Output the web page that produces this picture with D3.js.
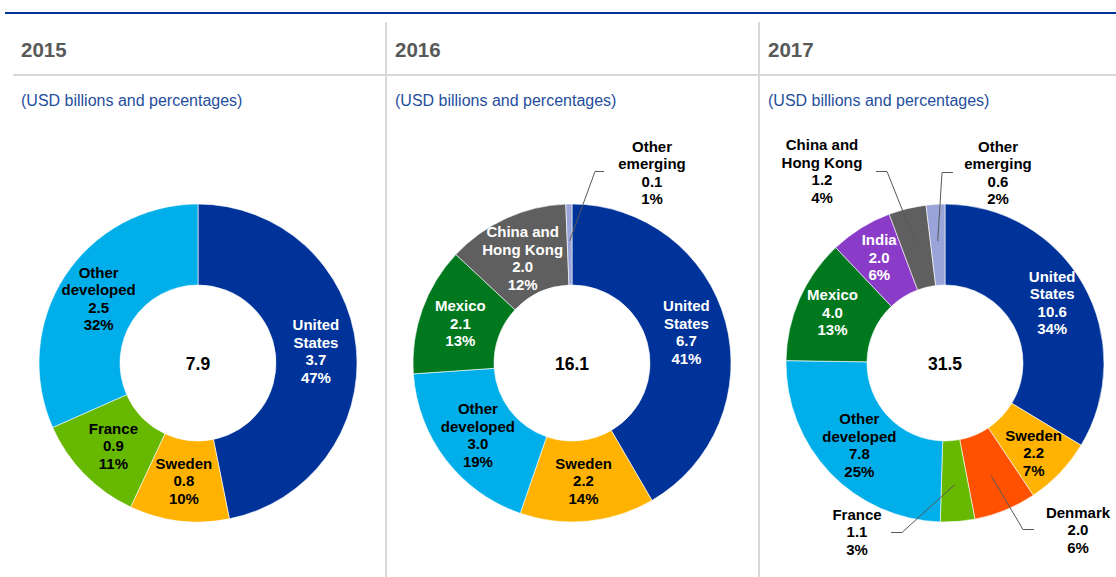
<!DOCTYPE html>
<html>
<head>
<meta charset="utf-8">
<script src="https://cdn.jsdelivr.net/npm/d3@7"></script>
<style>
  body { margin: 0; background: #fff; }
  svg { display: block; }
</style>
</head>
<body>
<svg id="chart" width="1116" height="577"></svg>
<script>
// ---- Data: greenfield investment by destination (USD billions and shares) ----
const years = ["2015", "2016", "2017"];

const categories2015 = ["United States", "Sweden", "France", "Other developed"];
const values2015 = [3.7, 0.8, 0.9, 2.5];
const shares2015 = [47, 10, 11, 32];

const categories2016 = ["United States", "Sweden", "Other developed", "Mexico", "China and Hong Kong", "Other emerging"];
const values2016 = [6.7, 2.2, 3.0, 2.1, 2.0, 0.1];
const shares2016 = [41, 14, 19, 13, 12, 1];

const categories2017 = ["United States", "Sweden", "Denmark", "France", "Other developed", "Mexico", "India", "China and Hong Kong", "Other emerging"];
const values2017 = [10.6, 2.2, 2.0, 1.1, 7.8, 4.0, 2.0, 1.2, 0.6];
const shares2017 = [34, 7, 6, 3, 25, 13, 6, 4, 2];

const subtitle = "(USD billions and percentages)";

// ---- Styling ----
const sliceColors = {
  "United States": "#003399",
  "Sweden": "#FFB300",
  "France": "#66B800",
  "Other developed": "#00AEEA",
  "Mexico": "#00781E",
  "China and Hong Kong": "#5F5F5F",
  "Other emerging": "#9AA4D8",
  "India": "#8A3CC8",
  "Denmark": "#FF5100"
};
const lightText = new Set(["United States", "Mexico", "China and Hong Kong", "India"]);
const lineBreaks = {
  "United States": ["United", "States"],
  "Other developed": ["Other", "developed"],
  "China and Hong Kong": ["China and", "Hong Kong"],
  "Other emerging": ["Other", "emerging"]
};

// Labels placed outside the ring, with a leader line (offsets from the donut centre)
const callouts = {
  "2016|Other emerging": { tx: 80, ty: -211.5, lx: 32, ly: -191.5, ex: 23 },
  "2017|China and Hong Kong": { tx: -123, ty: -213, lx: -69, ly: -191.5, ex: -58 },
  "2017|Other emerging": { tx: 53, ty: -211.5, lx: 8, ly: -190.5, ex: -3 },
  "2017|France": { tx: -88, ty: 156.5, lx: -54, ly: 169.5, ex: -43 },
  "2017|Denmark": { tx: 133, ty: 154.5, lx: 89, ly: 166.5, ex: 78 }
};
// Small nudges for a few inside labels
const nudges = {
  "2016|China and Hong Kong": [0, 3],
  "2017|United States": [4, -2],
  "2017|Sweden": [3, 8],
  "2017|India": [-3, -5],
  "2017|Mexico": [-4, -3]
};

const FONT = "'Liberation Sans', Arial, Helvetica, sans-serif";
const panelX = [12, 386, 759];
const centreDX = 186, centreY = 363;
const outerR = 159, innerR = 78;
const labelSize = 15, lineH = 17.5;

const panels = [
  { year: years[0], cats: categories2015, vals: values2015, shares: shares2015 },
  { year: years[1], cats: categories2016, vals: values2016, shares: shares2016 },
  { year: years[2], cats: categories2017, vals: values2017, shares: shares2017 }
];

const svg = d3.select("#chart");

// Frame lines
svg.append("line").attr("x1", 5).attr("x2", 1116).attr("y1", 13).attr("y2", 13)
  .attr("stroke", "#003399").attr("stroke-width", 2);
svg.append("line").attr("x1", 13).attr("x2", 1116).attr("y1", 75).attr("y2", 75)
  .attr("stroke", "#D9D9D9").attr("stroke-width", 2);
panelX.slice(1).forEach(x => {
  svg.append("line").attr("x1", x).attr("x2", x).attr("y1", 22).attr("y2", 577)
    .attr("stroke", "#D9D9D9").attr("stroke-width", 2);
});

const pie = d3.pie().sort(null).value(d => d.value);
const arc = d3.arc().innerRadius(innerR).outerRadius(outerR);
const leaderArc = d3.arc().innerRadius(122).outerRadius(122);

function drawLines(g, lines, x, firstBaseline, fill) {
  const t = g.append("text")
    .attr("font-family", FONT).attr("font-size", labelSize).attr("font-weight", "bold")
    .attr("text-anchor", "middle").attr("fill", fill);
  lines.forEach((s, i) => {
    t.append("tspan").attr("x", x).attr("y", firstBaseline + i * lineH).text(s);
  });
}

panels.forEach((p, pi) => {
  const px = panelX[pi];
  svg.append("text").attr("x", px + 9).attr("y", 57)
    .attr("font-family", FONT).attr("font-size", 20.5).attr("font-weight", "bold")
    .attr("fill", "#595959").text(p.year);
  svg.append("text").attr("x", px + 9).attr("y", 106)
    .attr("font-family", FONT).attr("font-size", 16)
    .attr("fill", "#1F4E9E").text(subtitle);

  const data = p.cats.map((c, i) => ({ name: c, value: p.vals[i], share: p.shares[i] }));
  const g = svg.append("g").attr("transform", `translate(${px + centreDX},${centreY})`);
  const arcs = pie(data);

  g.selectAll("path").data(arcs).join("path")
    .attr("d", arc)
    .attr("fill", d => sliceColors[d.data.name])
    .attr("stroke", "#fff").attr("stroke-width", 0.6);

  const total = d3.sum(p.vals);
  g.append("text").attr("x", 0).attr("y", 6.5)
    .attr("font-family", FONT).attr("font-size", 17.5).attr("font-weight", "bold")
    .attr("text-anchor", "middle").attr("fill", "#000").text(total.toFixed(1));

  arcs.forEach(a => {
    const key = p.year + "|" + a.data.name;
    const lines = (lineBreaks[a.data.name] || [a.data.name])
      .concat([a.data.value.toFixed(1), a.data.share + "%"]);
    const co = callouts[key];
    if (co) {
      const [ax, ay] = leaderArc.centroid(a);
      g.append("path")
        .attr("d", `M${co.lx},${co.ly}H${co.ex}L${ax},${ay}`)
        .attr("fill", "none").attr("stroke", "#595959").attr("stroke-width", 1);
      drawLines(g, lines, co.tx, co.ty, "#000");
    } else {
      const [cx, cy] = arc.centroid(a);
      const [nx, ny] = nudges[key] || [0, 0];
      const cap = labelSize * 0.716;
      const first = cy - ((lines.length - 1) * lineH) / 2 + cap / 2 + ny;
      drawLines(g, lines, cx + nx, first, lightText.has(a.data.name) ? "#fff" : "#000");
    }
  });
});
</script>
</body>
</html>
